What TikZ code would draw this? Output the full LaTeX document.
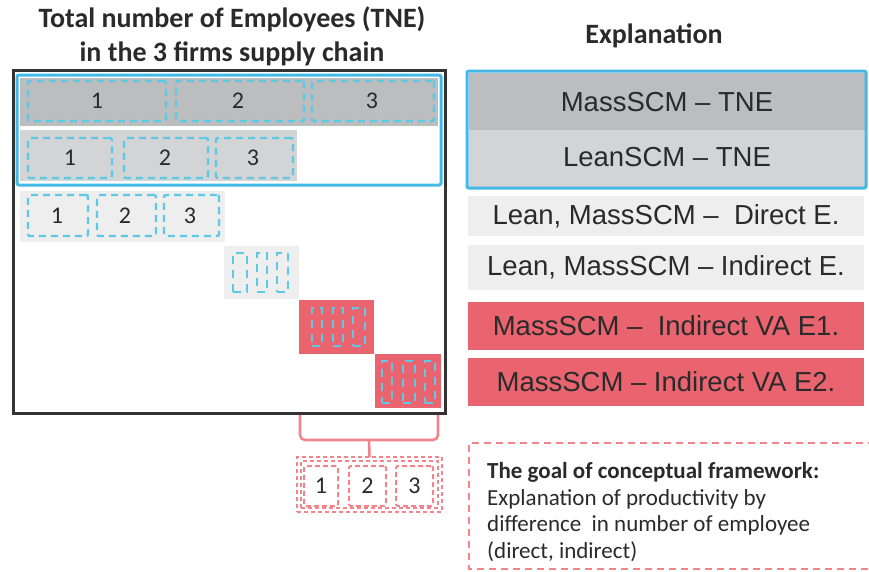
\documentclass[tikz,border=0pt]{standalone}
\usepackage{fontspec}
\setmainfont{Carlito}
\newfontfamily\arialf{Liberation Sans}
\usetikzlibrary{positioning}
\definecolor{gdark}{HTML}{BCBDBF}
\definecolor{gmid}{HTML}{D3D4D6}
\definecolor{glight}{HTML}{EEEEEF}
\definecolor{redbox}{HTML}{EA6470}
\definecolor{blueline}{HTML}{44B8E6}
\definecolor{cyandash}{HTML}{5CC9E5}
\definecolor{pinkdash}{HTML}{F2848C}
\definecolor{txt}{HTML}{2A2A2A}
\tikzset{
  box/.style={anchor=north west, inner sep=0pt, outer sep=0pt, draw=none},
  cdash/.style={draw=cyandash, line width=2.4pt, dash pattern=on 7pt off 5pt, rounded corners=2pt},
  cdashs/.style={draw=cyandash, line width=2pt, dash pattern=on 8pt off 6pt},
  pdash/.style={draw=pinkdash, line width=2pt, dash pattern=on 5pt off 3pt, rounded corners=2pt},
  numtxt/.style={font=\fontsize{24}{26}\selectfont, text=txt},
  exptxt/.style={font=\arialf\fontsize{27.5}{30}\selectfont, text=txt},
}
\begin{document}
\begin{tikzpicture}[x=1pt,y=-1pt]
\useasboundingbox (0,0) rectangle (869,571);
% titles
\node[font=\bfseries\fontsize{28}{34}\selectfont, text=txt, align=center] (title) at (232,36) {Total number of Employees (TNE)\\in the 3 firms supply chain};
\node[font=\bfseries\fontsize{28}{34}\selectfont, text=txt] (expl) at (654,36) {Explanation};
% outer black box
\draw[draw=black!80, line width=3pt] (13,70) rectangle (445,413);
% row 1
\fill[gdark] (20,78) rectangle (438,126);
\node[box, cdash, minimum width=138pt, minimum height=40pt] (r1a) at (28,81) {};
\node[box, cdash, minimum width=128pt, minimum height=40pt] (r1b) at (176,81) {};
\node[box, cdash, minimum width=122pt, minimum height=40pt] (r1c) at (312,81) {};
\node[numtxt] at (97,101) {1};
\node[numtxt] at (238,101) {2};
\node[numtxt] at (372,101) {3};
% row 2
\fill[gmid] (20,130) rectangle (297,181);
\node[box, cdash, minimum width=84pt, minimum height=40pt] (r2a) at (28,138) {};
\node[box, cdash, minimum width=84pt, minimum height=40pt] (r2b) at (124,138) {};
\node[box, cdash, minimum width=77pt, minimum height=40pt] (r2c) at (216,138) {};
\node[numtxt] at (70,158) {1};
\node[numtxt] at (165,158) {2};
\node[numtxt] at (253,158) {3};
% blue frame
\draw[draw=blueline, line width=3pt, rounded corners=2pt] (17,75) rectangle (441,185);
% row 3
\fill[glight] (20,191) rectangle (225,242);
\node[box, cdash, minimum width=60pt, minimum height=41pt] (r3a) at (28,195) {};
\node[box, cdash, minimum width=59pt, minimum height=41pt] (r3b) at (97,195) {};
\node[box, cdash, minimum width=55pt, minimum height=41pt] (r3c) at (164,195) {};
\node[numtxt] at (57,216) {1};
\node[numtxt] at (125,216) {2};
\node[numtxt] at (190,216) {3};
% row 4
\fill[glight] (224,246) rectangle (299,299);
\node[box, cdashs, minimum width=14pt, minimum height=39pt] (r4a) at (233,253) {};
\node[box, cdashs, minimum width=10pt, minimum height=39pt] (r4b) at (257,253) {};
\node[box, cdashs, minimum width=11pt, minimum height=39pt] (r4c) at (277,253) {};
% row 5
\fill[redbox] (299,300) rectangle (374,354);
\node[box, cdashs, minimum width=10pt, minimum height=38pt] (r5a) at (312,308) {};
\node[box, cdashs, minimum width=10pt, minimum height=38pt] (r5b) at (333,308) {};
\node[box, cdashs, minimum width=12pt, minimum height=38pt] (r5c) at (353,308) {};
% row 6
\fill[redbox] (375,354) rectangle (441,408);
\node[box, cdashs, minimum width=10pt, minimum height=42pt] (r6a) at (382,361) {};
\node[box, cdashs, minimum width=12pt, minimum height=42pt] (r6b) at (403,361) {};
\node[box, cdashs, minimum width=10pt, minimum height=42pt] (r6c) at (425,361) {};
% bracket
\coordinate (bl) at (300,415);
\coordinate (br) at (438,415);
\coordinate (bm) at (369,440);
\draw[draw=pinkdash, line width=2.6pt, rounded corners=5pt] (bl) -- (300,440) -- (438,440) -- (br);
% bottom group
\node[box, draw=pinkdash, line width=1.8pt, dash pattern=on 4pt off 3pt, minimum width=145pt, minimum height=55pt] (grp) at (297,457) {};
\node[box, draw=pinkdash, line width=1.8pt, dash pattern=on 4pt off 3pt, minimum width=137pt, minimum height=47pt] (grpin) at (301,461) {};
\draw[draw=pinkdash, line width=2.6pt] (bm) -- (grp.north);
\node[box, pdash, minimum width=34pt, minimum height=40pt] (g1) at (304,466) {};
\node[box, pdash, minimum width=37pt, minimum height=40pt] (g2) at (349,466) {};
\node[box, pdash, minimum width=37pt, minimum height=40pt] (g3) at (396,466) {};
\node[numtxt] at (g1.center) {1};
\node[numtxt] at (g2.center) {2};
\node[numtxt] at (g3.center) {3};
% right column
\fill[gdark] (469,73) rectangle (865,130);
\fill[gmid] (469,130) rectangle (865,187);
\draw[draw=blueline, line width=3pt, rounded corners=2pt] (467,71) rectangle (866,188);
\node[exptxt] (e1) at (667,102) {MassSCM – TNE};
\node[exptxt] (e2) at (667,157) {LeanSCM – TNE};
\node[box, fill=glight, minimum width=396pt, minimum height=40pt] (e3b) at (468,196) {};
\node[exptxt] (e3) at (e3b.center) {Lean, MassSCM –\ \ Direct E.};
\node[box, fill=glight, minimum width=396pt, minimum height=45pt] (e4b) at (468,245) {};
\node[exptxt] (e4) at (e4b.center) {Lean, MassSCM – Indirect E.};
\node[box, fill=redbox, minimum width=396pt, minimum height=48pt] (e5b) at (468,302) {};
\node[exptxt] (e5) at (e5b.center) {MassSCM –\ \ Indirect VA E1.};
\node[box, fill=redbox, minimum width=396pt, minimum height=48pt] (e6b) at (468,358) {};
\node[exptxt] (e6) at (e6b.center) {MassSCM – Indirect VA E2.};
% goal box
\draw[draw=pinkdash, line width=1.8pt, dash pattern=on 7pt off 5pt] (875,443) -- (469,443) -- (469,569) -- (875,569);
\node[anchor=north west, align=left, text=txt, font=\fontsize{23}{26.7}\selectfont, inner sep=0pt] (goal) at (487,462) {\textbf{The goal of conceptual framework:}\\Explanation of productivity by\\difference\ \ in number of employee\\(direct, indirect)};
\end{tikzpicture}
\end{document}
